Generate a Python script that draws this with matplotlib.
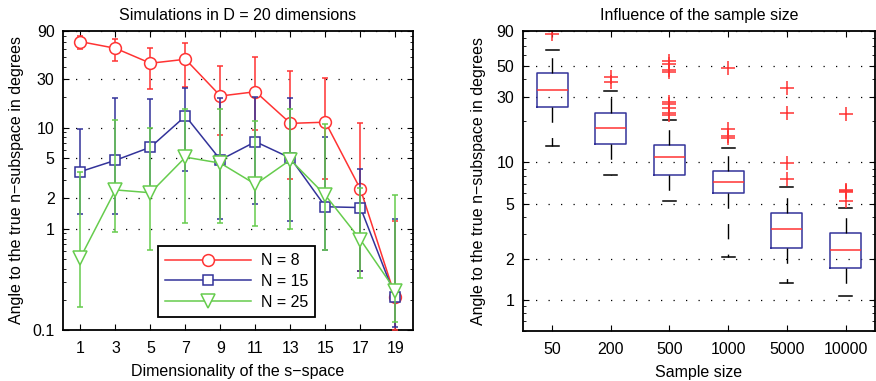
import matplotlib
matplotlib.use('agg')
import matplotlib.pyplot as plt
from matplotlib.ticker import FixedLocator, FuncFormatter, NullFormatter, LogLocator

plt.rcParams['font.family'] = ['Liberation Sans', 'DejaVu Sans']
plt.rcParams['font.size'] = 11.5

# left panel: mean angle with lower / upper error limits, per dimensionality
dims = [1, 3, 5, 7, 9, 11, 13, 15, 17, 19]

n8_mean = [70.6, 60.7, 43.2, 47.3, 20.5, 22.6, 11.0, 11.3, 2.46, 0.21]
n8_low = [59.8, 45.0, 24.0, 25.0, 8.5, 9.5, 3.1, 3.1, 0.38, 0.10]
n8_high = [80.2, 75.7, 61.5, 68.0, 40.5, 50.0, 36.5, 31.2, 11.0, 1.18]

n15_mean = [3.67, 4.75, 6.4, 13.0, 4.8, 7.25, 5.0, 1.65, 1.62, 0.21]
n15_low = [1.4, 1.4, 2.3, 3.75, 1.25, 1.75, 1.2, 0.61, 0.38, 0.107]
n15_high = [9.6, 19.4, 19.0, 24.8, 19.4, 20.0, 19.7, 8.1, 3.9, 1.25]

n25_mean = [0.52, 2.42, 2.27, 5.1, 4.45, 2.75, 4.8, 2.14, 0.78, 0.245]
n25_low = [0.17, 0.92, 0.61, 1.13, 1.15, 1.07, 1.0, 0.61, 0.33, 0.12]
n25_high = [3.6, 12.0, 10.0, 15.4, 15.4, 11.6, 15.3, 10.8, 2.5, 2.14]

# right panel: box statistics per sample size
sizes = ['50', '200', '500', '1000', '5000', '10000']
q1 = [25.4, 13.7, 8.06, 5.97, 2.4, 1.72]
med = [33.7, 17.9, 10.9, 7.25, 3.26, 2.3]
q3 = [44.8, 22.9, 13.4, 8.71, 4.31, 3.09]
whis_lo = [13.2, 8.15, 5.28, 2.06, 1.34, 1.07]
whis_hi = [65.0, 33.0, 20.4, 12.8, 6.67, 4.65]
outliers = [
    [86.0],
    [38.5, 41.9],
    [54.4, 51.5, 46.6, 45.5, 27.2, 26.4, 25.0, 23.0, 22.0],
    [48.1, 17.6, 15.6, 15.0],
    [34.8, 22.9, 9.84, 7.59],
    [22.4, 6.3, 6.17, 6.05, 5.22],
]

red = '#ff3333'
blue = '#33339a'
green = '#66cc4d'

fig = plt.figure(figsize=(8.76, 3.81), dpi=100)
ax1 = fig.add_axes([0.0719, 0.1339, 0.3995, 0.7848])
ax2 = fig.add_axes([0.5967, 0.1320, 0.4020, 0.7870])

grid_style = dict(color='black', linestyle=(0, (1, 9)), linewidth=0.9)


def style_axis(ax, yticks):
    ax.set_yscale('log')
    ax.yaxis.set_major_locator(FixedLocator(yticks))
    ax.yaxis.set_major_formatter(FuncFormatter(lambda v, p: '%g' % v))
    ax.yaxis.set_minor_locator(LogLocator(base=10, subs=range(2, 10)))
    ax.yaxis.set_minor_formatter(NullFormatter())
    ax.tick_params(which='both', direction='in', top=True, right=True)
    ax.tick_params(which='major', length=4, width=0.8, labelsize=11.5)
    ax.tick_params(axis='x', which='major', pad=8)
    ax.tick_params(axis='y', which='major', pad=6)
    ax.tick_params(which='minor', length=2.5, width=0.6)
    ax.tick_params(axis='x', which='minor', bottom=False, top=False)
    for s in ax.spines.values():
        s.set_linewidth(1.3)
    ax.yaxis.grid(True, which='major', **grid_style)
    ax.set_axisbelow(True)


series = [
    (n8_mean, n8_low, n8_high, red, 'o', 8.5, 'N = 8'),
    (n15_mean, n15_low, n15_high, blue, 's', 7, 'N = 15'),
    (n25_mean, n25_low, n25_high, green, 'v', 9.5, 'N = 25'),
]
handles = []
labels = []
for i, (m, lo, hi, c, mk, ms, lab) in enumerate(series):
    err = [[a - b for a, b in zip(m, lo)], [b - a for a, b in zip(m, hi)]]
    cont = ax1.errorbar(dims, m, yerr=err, color=c, marker=mk, markersize=ms,
                        markerfacecolor='white', markeredgecolor=c, markeredgewidth=1.1,
                        linewidth=1.1, elinewidth=1.1, capsize=2.5, capthick=1.1,
                        zorder=3 + i)
    handles.append(cont.lines[0])
    labels.append(lab)

style_axis(ax1, [0.1, 1, 2, 5, 10, 30, 90])
ax1.set_xlim(0, 20)
ax1.set_ylim(0.1, 90)
ax1.set_xticks(dims)
ax1.set_title('Simulations in D = 20 dimensions', fontsize=11.5, pad=8)
ax1.set_xlabel('Dimensionality of the s\u2212space', fontsize=11.5, labelpad=6)
ax1.set_ylabel('Angle to the true n\u2212subspace in degrees', fontsize=11.5, labelpad=6)
leg = ax1.legend(handles, labels, loc='lower left', bbox_to_anchor=(0.271, 0.044),
                 fancybox=False, framealpha=1, edgecolor='black', fontsize=11.5,
                 handlelength=5.4, handletextpad=0.6, borderpad=0.45, labelspacing=0.35,
                 borderaxespad=0)
leg.get_frame().set_linewidth(1.3)
leg.set_zorder(10)

stats = []
for i in range(len(sizes)):
    stats.append(dict(med=med[i], q1=q1[i], q3=q3[i], whislo=whis_lo[i],
                      whishi=whis_hi[i], fliers=outliers[i], label=sizes[i]))
ax2.bxp(stats, widths=0.53, capwidths=0.22, showfliers=True,
        boxprops=dict(color=blue, linewidth=1.1),
        medianprops=dict(color=red, linewidth=1.1),
        whiskerprops=dict(color='black', linewidth=1.0, linestyle=(0, (11, 11))),
        capprops=dict(color='black', linewidth=1.1),
        flierprops=dict(marker='+', markeredgecolor=red, markersize=10,
                        markeredgewidth=1.1, linestyle='none'))

style_axis(ax2, [1, 2, 5, 10, 30, 50, 90])
ax2.set_xlim(0.5, 6.5)
ax2.set_ylim(0.6, 90)
ax2.set_title('Influence of the sample size', fontsize=11.5, pad=8)
ax2.set_xlabel('Sample size', fontsize=11.5, labelpad=6)
ax2.set_ylabel('Angle to the true n\u2212subspace in degrees', fontsize=11.5, labelpad=7.5)

fig.savefig('out.png', dpi=100)
plt.close(fig)
